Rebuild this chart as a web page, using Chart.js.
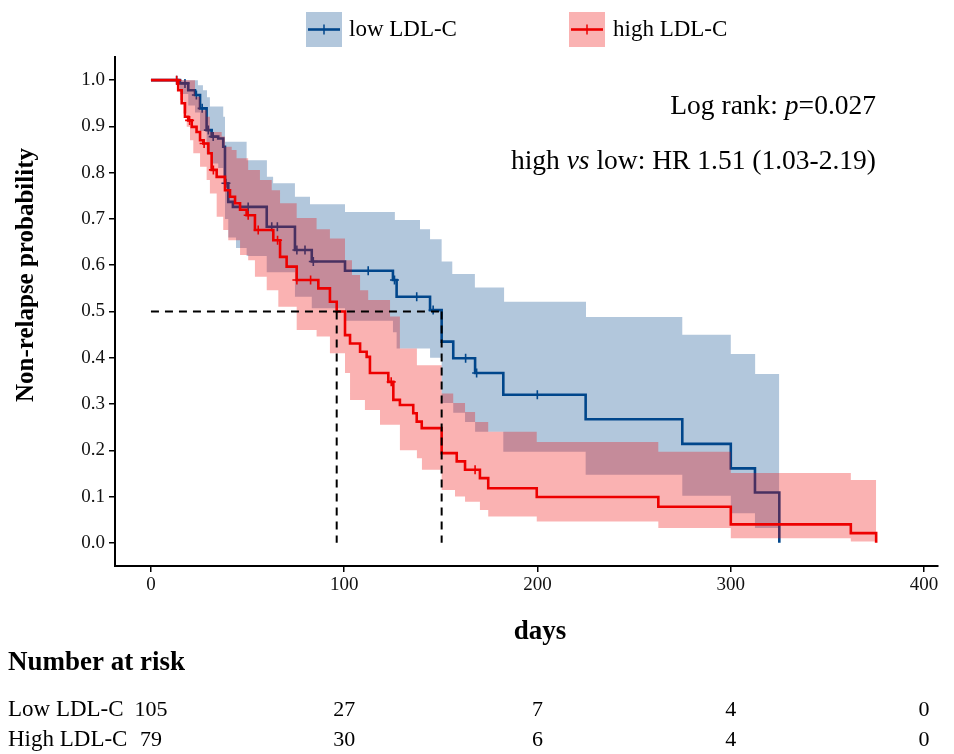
<!DOCTYPE html>
<html>
<head>
<meta charset="utf-8">
<script src="https://cdn.jsdelivr.net/npm/chart.js@4.4.0/dist/chart.umd.min.js"></script>
<style>
  html, body { margin: 0; padding: 0; background: #fff; }
  canvas { display: block; }
</style>
</head>
<body>
<canvas id="km" width="954" height="754"></canvas>
<script>
// Kaplan-Meier estimates, [day, probability]
const lowLine = [[0,1],[15,0.993],[19.3,0.978],[22.8,0.968],[25.4,0.939],[28.8,0.892],[31.4,0.878],[34.8,0.874],[37.4,0.856],[38.3,0.777],[40,0.737],[42.4,0.726],[59.9,0.683],[74.5,0.633],[83.2,0.608],[100.4,0.588],[125.2,0.568],[127.1,0.532],[144.4,0.503],[150.4,0.435],[156.4,0.399],[167.7,0.367],[182.3,0.32],[224.9,0.267],[274.9,0.214],[300,0.161],[312.5,0.109],[325.1,0]];
const lowUpper = [[0,1],[24.3,0.989],[26.9,0.978],[29,0.963],[30.5,0.943],[37.4,0.921],[38.3,0.867],[49.5,0.827],[60,0.791],[63.2,0.777],[74.5,0.748],[82.3,0.732],[100.4,0.715],[126.2,0.698],[139.2,0.678],[144.4,0.656],[150.4,0.608],[155.9,0.581],[167.6,0.552],[182.7,0.521],[225.1,0.488],[274.9,0.45],[300,0.408],[312.6,0.365],[325.1,0.365]];
const lowLower = [[0,1],[15,0.97],[19.3,0.945],[22.8,0.93],[25.4,0.89],[28.8,0.84],[31.4,0.82],[34.8,0.81],[37.4,0.79],[38.3,0.7],[40,0.66],[44,0.637],[49.5,0.62],[59.9,0.585],[74.5,0.532],[83.2,0.507],[100.4,0.48],[125.2,0.455],[127.1,0.42],[144.4,0.4],[150.4,0.302],[156.4,0.281],[162.5,0.261],[167.7,0.24],[182.3,0.197],[224.9,0.147],[274.9,0.102],[300,0.064],[312.5,0.032],[325.1,0.032]];
const lowCensor = [[13.3,1],[17.6,0.993],[23.5,0.968],[26.5,0.939],[29.7,0.892],[32.2,0.878],[38.8,0.777],[50.3,0.726],[62.5,0.683],[65.4,0.683],[75.5,0.633],[79.7,0.633],[84,0.608],[112.4,0.588],[126,0.568],[137.5,0.532],[146,0.503],[162.8,0.399],[168.5,0.367],[199.9,0.32]];

const highLine = [[0,1],[14.1,0.978],[15.9,0.95],[17.6,0.921],[19.3,0.913],[21.1,0.899],[23.6,0.888],[25.4,0.87],[27.1,0.863],[29.7,0.842],[31.4,0.806],[34,0.791],[38.3,0.762],[40.9,0.748],[43.5,0.734],[46.1,0.72],[49.5,0.708],[53.8,0.676],[63.3,0.654],[66.8,0.618],[70.2,0.597],[75.4,0.568],[86.6,0.55],[92.6,0.521],[96.1,0.5],[100.4,0.449],[103,0.431],[108.2,0.413],[111.6,0.402],[113.3,0.367],[122.8,0.348],[125.4,0.309],[128.8,0.298],[135.7,0.28],[137.5,0.262],[140.1,0.248],[150.4,0.194],[158.2,0.176],[162.5,0.158],[170.2,0.14],[174.5,0.118],[199.6,0.099],[262.5,0.078],[300,0.04],[362.1,0.021],[375.2,0]];
const highUpper = [[0,1],[22.8,0.964],[25.4,0.935],[28.8,0.921],[30.5,0.888],[36.6,0.878],[38.3,0.856],[41.8,0.849],[44.3,0.831],[50.3,0.806],[56.4,0.784],[62.5,0.762],[66.8,0.734],[75.4,0.702],[85.7,0.678],[92.6,0.658],[100.4,0.611],[104,0.579],[108.2,0.546],[112.4,0.525],[123.7,0.489],[128.8,0.42],[137.6,0.384],[150.4,0.323],[156.4,0.302],[162.5,0.283],[167.7,0.261],[174.5,0.24],[199.6,0.218],[262.5,0.197],[300,0.151],[362.1,0.136],[375.2,0.136]];
const highLower = [[0,1],[13.3,0.989],[15,0.957],[16.7,0.928],[18.5,0.899],[20.2,0.87],[21.9,0.842],[25.4,0.813],[28.8,0.784],[30.5,0.755],[34,0.705],[37.4,0.676],[40,0.654],[46.1,0.622],[50.3,0.611],[53.8,0.575],[59.9,0.546],[65.9,0.51],[75.4,0.46],[85.7,0.446],[92.6,0.41],[100.4,0.367],[103,0.309],[110.7,0.287],[118.5,0.255],[128.8,0.2],[137.6,0.183],[140.2,0.158],[150.4,0.114],[157.3,0.1],[162.5,0.089],[170.2,0.071],[174.5,0.057],[199.6,0.046],[262.5,0.032],[300,0.01],[362.1,0.003],[375.2,0.003]];
const highCensor = [[13.3,1],[20,0.913],[27.5,0.863],[32.3,0.806],[50.3,0.708],[55.5,0.676],[65.5,0.654],[75.5,0.568],[82.6,0.568],[124.3,0.348],[167.7,0.158]];

// medians (days), axis ticks and the number-at-risk table
const medianHigh = 96.1;
const medianLow = 150.4;
const xTicks = [0, 100, 200, 300, 400];
const yTicks = [0, 0.1, 0.2, 0.3, 0.4, 0.5, 0.6, 0.7, 0.8, 0.9, 1.0];
const riskTimes = [0, 100, 200, 300, 400];
const riskLow = [105, 27, 7, 4, 0];
const riskHigh = [79, 30, 6, 4, 0];

const BLUE = '#00468B';
const RED = '#ED0000';
const BLUE_BAND = 'rgba(0,70,139,0.3)';
const RED_BAND = 'rgba(237,0,0,0.3)';
const SERIF = '"Liberation Serif", "Times New Roman", serif';

const toXY = (pairs) => pairs.map(([x, y]) => ({ x, y }));

const bandEdge = (pairs, order, fill, color) => ({
  data: toXY(pairs),
  stepped: true,
  borderWidth: 0,
  pointRadius: 0,
  fill: fill,
  backgroundColor: color,
  order: order,
});

const curve = (pairs, color, order) => ({
  data: toXY(pairs),
  stepped: true,
  borderColor: color,
  borderWidth: 2.6,
  pointRadius: 0,
  fill: false,
  order: order,
});

const marks = (pairs, color, order) => ({
  data: toXY(pairs),
  showLine: false,
  pointStyle: 'cross',
  pointRadius: 4.5,
  pointBorderWidth: 1.6,
  pointBorderColor: color,
  pointBackgroundColor: color,
  order: order,
});

const dashed = (pairs) => ({
  data: toXY(pairs),
  borderColor: '#000',
  borderWidth: 2,
  borderDash: [8, 6],
  pointRadius: 0,
  fill: false,
  order: 1,
});

function drawRuns(ctx, runs, rightX, midY, size) {
  let total = 0;
  runs.forEach((r) => {
    ctx.font = (r.italic ? 'italic ' : '') + size + 'px ' + SERIF;
    r.w = ctx.measureText(r.text).width;
    total += r.w;
  });
  let x = rightX - total;
  runs.forEach((r) => {
    ctx.font = (r.italic ? 'italic ' : '') + size + 'px ' + SERIF;
    ctx.fillText(r.text, x, midY);
    x += r.w;
  });
}

function legendKey(ctx, x, y, w, h, band, line) {
  ctx.fillStyle = band;
  ctx.fillRect(x, y, w, h);
  ctx.strokeStyle = line;
  ctx.lineWidth = 2.6;
  ctx.beginPath();
  ctx.moveTo(x + 2, y + h / 2);
  ctx.lineTo(x + w - 2, y + h / 2);
  ctx.stroke();
  ctx.lineWidth = 1.5;
  ctx.beginPath();
  ctx.moveTo(x + w / 2, y + h / 2 - 5);
  ctx.lineTo(x + w / 2, y + h / 2 + 5);
  ctx.stroke();
}

const decorations = {
  id: 'decorations',
  afterDraw(chart) {
    const { ctx } = chart;
    const xs = chart.scales.x;
    ctx.save();
    ctx.fillStyle = '#000';
    ctx.textBaseline = 'middle';

    // axis titles
    ctx.textAlign = 'center';
    ctx.font = 'bold 27px ' + SERIF;
    ctx.fillText('days', 540, 632);
    ctx.save();
    ctx.translate(27, 275);
    ctx.rotate(-Math.PI / 2);
    ctx.font = 'bold 25px ' + SERIF;
    ctx.fillText('Non-relapse probability', 0, 0);
    ctx.restore();

    // legend
    legendKey(ctx, 306, 12, 36, 35, BLUE_BAND, BLUE);
    legendKey(ctx, 569, 12, 36, 35, RED_BAND, RED);
    ctx.fillStyle = '#000';
    ctx.textAlign = 'left';
    ctx.font = '23px ' + SERIF;
    ctx.fillText('low LDL-C', 349, 30);
    ctx.fillText('high LDL-C', 613, 30);

    // statistics
    drawRuns(ctx, [{ text: 'Log rank: ' }, { text: 'p', italic: true }, { text: '=0.027' }], 876, 107, 27.5);
    drawRuns(ctx, [{ text: 'high ' }, { text: 'vs', italic: true }, { text: ' low: HR 1.51 (1.03-2.19)' }], 876, 162, 27.5);

    // number at risk table
    ctx.textAlign = 'left';
    ctx.font = 'bold 27px ' + SERIF;
    ctx.fillText('Number at risk', 8, 663);
    ctx.font = '23px ' + SERIF;
    ctx.fillText('Low LDL-C', 8, 710);
    ctx.fillText('High LDL-C', 8, 740);
    ctx.font = '22px ' + SERIF;
    ctx.textAlign = 'center';
    riskTimes.forEach((t, i) => {
      const px = xs.getPixelForValue(t);
      ctx.fillText(String(riskLow[i]), px, 710);
      ctx.fillText(String(riskHigh[i]), px, 740);
    });
    ctx.restore();
  },
};

const tickFont = { family: SERIF, size: 19 };

new Chart(document.getElementById('km').getContext('2d'), {
  type: 'line',
  data: {
    datasets: [
      bandEdge(lowLower, 9, false, 'transparent'),
      bandEdge(lowUpper, 8, '-1', BLUE_BAND),
      curve(lowLine, BLUE, 7),
      marks(lowCensor, BLUE, 6),
      bandEdge(highLower, 5, false, 'transparent'),
      bandEdge(highUpper, 4, '-1', RED_BAND),
      curve(highLine, RED, 3),
      marks(highCensor, RED, 2),
      dashed([[0, 0.5], [medianLow, 0.5]]),
      dashed([[medianHigh, 0.5], [medianHigh, 0]]),
      dashed([[medianLow, 0.5], [medianLow, 0]]),
    ],
  },
  options: {
    responsive: false,
    animation: false,
    events: [],
    layout: { padding: { top: 57, right: 16, left: 0, bottom: 0 } },
    plugins: {
      legend: { display: false },
      tooltip: { enabled: false },
    },
    scales: {
      x: {
        type: 'linear',
        min: -18.6,
        max: 407.2,
        afterFit: (scale) => { scale.height = 188; },
        afterBuildTicks: (scale) => { scale.ticks = xTicks.map((v) => ({ value: v })); },
        ticks: { color: '#111', font: tickFont, padding: 2, maxRotation: 0, callback: (v) => String(v) },
        grid: { drawOnChartArea: false, tickLength: 6, color: '#000', lineWidth: 1.5 },
        border: { color: '#000', width: 2 },
      },
      y: {
        type: 'linear',
        min: -0.05,
        max: 1.05,
        afterFit: (scale) => { scale.width = 115; },
        afterBuildTicks: (scale) => { scale.ticks = yTicks.map((v) => ({ value: v })); },
        ticks: { color: '#111', font: tickFont, padding: 4, callback: (v) => v.toFixed(1) },
        grid: { drawOnChartArea: false, tickLength: 6, color: '#000', lineWidth: 1.5 },
        border: { color: '#000', width: 2 },
      },
    },
  },
  plugins: [decorations],
});
</script>
</body>
</html>
